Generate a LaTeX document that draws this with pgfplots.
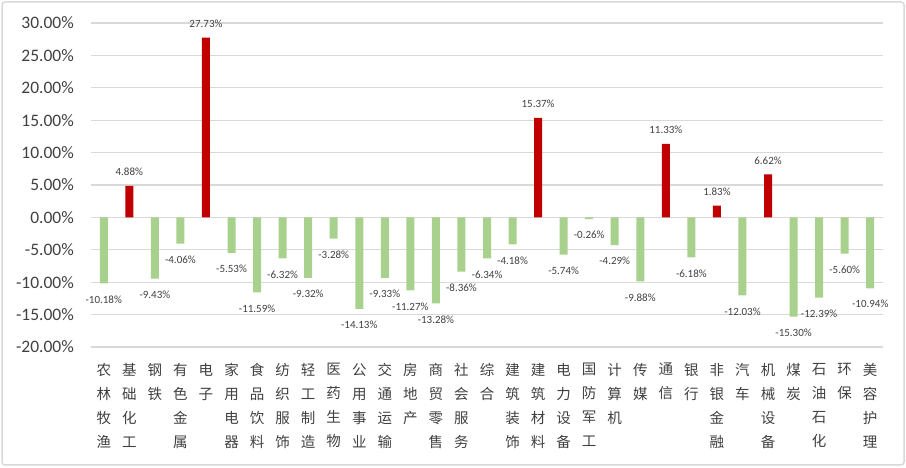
\documentclass[border=0pt]{standalone}
\usepackage{pgfplots}
\pgfplotsset{compat=1.18}
\usepackage{fontspec}
\setmainfont{Carlito}
\newfontfamily\cjk{Noto Sans CJK SC}
\definecolor{posred}{HTML}{C00000}
\definecolor{neggreen}{HTML}{A9D18E}
\definecolor{gridgray}{HTML}{D9D9D9}
\definecolor{txt}{HTML}{404040}
\begin{document}
\begin{tikzpicture}
\useasboundingbox (0pt,0pt) rectangle (906pt,468pt);
\draw[gridgray, line width=1.5pt, rounded corners=3pt] (2pt,3pt) rectangle (904pt,466pt);
\begin{axis}[
  at={(91pt,121pt)}, anchor=south west,
  scale only axis, width=792pt, height=324pt,
  xmin=-0.5, xmax=30.5, ymin=-20, ymax=30,
  axis line style={draw=none}, major tick length=0pt,
  ymajorgrids, grid style={gridgray, line width=1.2pt},
  ytick={-20,-15,-10,-5,0,5,10,15,20,25,30},
  yticklabels={-20.00\%,-15.00\%,-10.00\%,-5.00\%,0.00\%,5.00\%,10.00\%,15.00\%,20.00\%,25.00\%,30.00\%},
  yticklabel style={font=\fontsize{17.5}{20}\selectfont, text=txt, inner sep=0pt, xshift=-17pt},
  xtick={0,...,30},
  xticklabels={{农\\林\\牧\\渔},{基\\础\\化\\工},{钢\\铁},{有\\色\\金\\属},{电\\子},{家\\用\\电\\器},{食\\品\\饮\\料},{纺\\织\\服\\饰},{轻\\工\\制\\造},{医\\药\\生\\物},{公\\用\\事\\业},{交\\通\\运\\输},{房\\地\\产},{商\\贸\\零\\售},{社\\会\\服\\务},{综\\合},{建\\筑\\装\\饰},{建\\筑\\材\\料},{电\\力\\设\\备},{国\\防\\军\\工},{计\\算\\机},{传\\媒},{通\\信},{银\\行},{非\\银\\金\\融},{汽\\车},{机\\械\\设\\备},{煤\\炭},{石\\油\\石\\化},{环\\保},{美\\容\\护\\理}},
  xticklabel style={font=\cjk\fontsize{14.5}{24}\selectfont, text=txt, align=center, anchor=north, inner sep=0pt, yshift=-16pt},
  ybar, bar width=8pt, bar shift=0pt,
  point meta=explicit symbolic,
  nodes near coords,
  every node near coord/.append style={font=\fontsize{11}{13}\selectfont, text=txt, inner sep=0pt, anchor=center},
]
\addplot[fill=posred, draw=none, every node near coord/.append style={yshift=14pt}] coordinates {
(1,4.88) [4.88\%]
(4,27.73) [27.73\%]
(17,15.37) [15.37\%]
(22,11.33) [11.33\%]
(24,1.83) [1.83\%]
(26,6.62) [6.62\%]
};
\addplot[fill=neggreen, draw=none, every node near coord/.append style={yshift=-16pt}] coordinates {
(0,-10.18) [-10.18\%]
(2,-9.43) [-9.43\%]
(3,-4.06) [-4.06\%]
(5,-5.53) [-5.53\%]
(6,-11.59) [-11.59\%]
(7,-6.32) [-6.32\%]
(8,-9.32) [-9.32\%]
(9,-3.28) [-3.28\%]
(10,-14.13) [-14.13\%]
(11,-9.33) [-9.33\%]
(12,-11.27) [-11.27\%]
(13,-13.28) [-13.28\%]
(14,-8.36) [-8.36\%]
(15,-6.34) [-6.34\%]
(16,-4.18) [-4.18\%]
(18,-5.74) [-5.74\%]
(19,-0.26) [-0.26\%]
(20,-4.29) [-4.29\%]
(21,-9.88) [-9.88\%]
(23,-6.18) [-6.18\%]
(25,-12.03) [-12.03\%]
(27,-15.30) [-15.30\%]
(28,-12.39) [-12.39\%]
(29,-5.60) [-5.60\%]
(30,-10.94) [-10.94\%]
};
\end{axis}
\end{tikzpicture}
\end{document}
